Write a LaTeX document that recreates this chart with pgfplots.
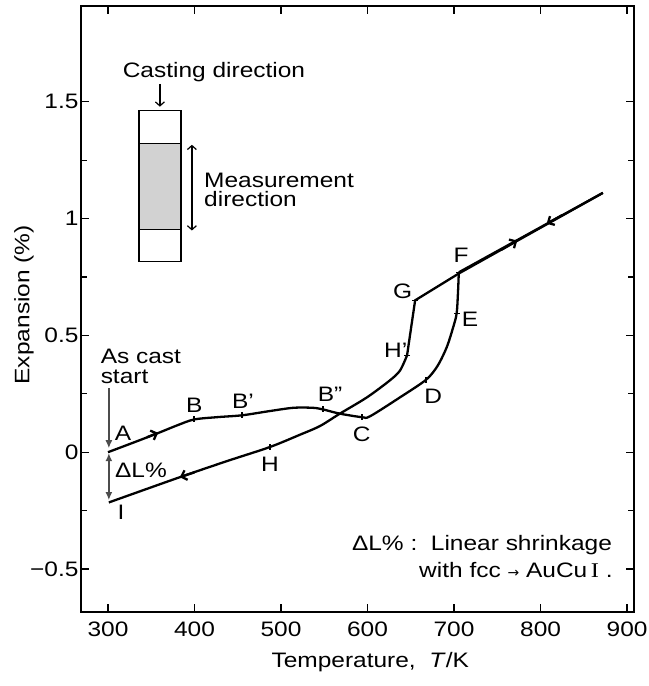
\documentclass[border=0pt]{standalone}
\usepackage{pgfplots}
\pgfplotsset{compat=1.18}
\usepackage{fontspec}
\setmainfont{Liberation Sans}[FakeStretch=1.17]
\newfontfamily\serifI{Liberation Serif}[FakeStretch=1.17]
\newfontfamily\djv{DejaVu Sans}
\usetikzlibrary{arrows.meta}
\begin{document}
\begin{tikzpicture}[font=\fontsize{21}{24}\selectfont]
\useasboundingbox (-81bp,-74bp) rectangle (568bp,612bp);
\begin{axis}[
 at={(0,0)}, anchor=south west,
 scale only axis, width=553bp, height=606bp,
 xmin=268.8, xmax=908, ymin=-0.684, ymax=1.91,
 axis line style={line width=2.2bp},
 tick align=inside,
 xtick={300,400,500,600,700,800,900},
 xticklabels={300,400,500,600,700,800,900},
 xticklabel style={yshift=-6bp},
 ytick={-0.5,0,0.5,1,1.5},
 yticklabels={−0.5,0,0.5,1,1.5},
 yticklabel style={xshift=1bp},
 minor ytick={-0.25,0.25,0.75,1.25},
 major tick length=8bp, minor tick length=6bp,
 every tick/.style={line width=1.2bp, black},
 xlabel={Temperature,\ \ \textit{T}/K},
 ylabel={Expansion (\%)},
 xlabel style={at={(axis description cs:0.523,0)}, anchor=center, yshift=-50bp},
 ylabel style={at={(axis description cs:-0.103,0.507)}, anchor=center},
 clip=false,
]
% heating curve
\addplot[line width=2.3bp, smooth] coordinates {
 (300,0.0)(330,0.042)(356.6,0.08)(380,0.115)(399.4,0.14)(426,0.15)(455,0.158)
 (485,0.175)(514,0.19)(537,0.19)(548.6,0.183)(568,0.165)(593.6,0.15)(603,0.154)
 (637.6,0.235)(667.6,0.31)(681,0.37)(691.6,0.45)(699,0.535)(703,0.594)(704.5,0.68)(705.5,0.77)};
\addplot[line width=2.3bp] coordinates {(705.5,0.77)(872,1.11)};
% cooling curve
\addplot[line width=2.3bp] coordinates {(872,1.11)(705.5,0.765)(655,0.65)(645.7,0.415)};
\addplot[line width=2.3bp, smooth] coordinates {
 (645.7,0.415)(637.6,0.35)(626,0.308)(599.4,0.235)
 (568,0.165)(545,0.112)(522,0.075)(487,0.022)(437.6,-0.038)(383,-0.107)(301,-0.215)};
% direction arrows
\addplot[line width=2.3bp, -{Straight Barb[length=5bp,width=10bp]}] coordinates {(345,0.064)(358,0.083)};
\addplot[line width=2.3bp, -{Straight Barb[length=5bp,width=10bp]}] coordinates {(755,0.867)(773,0.906)};
\addplot[line width=2.3bp, -{Straight Barb[length=5bp,width=10bp]}] coordinates {(825,1.015)(807,0.978)};
\addplot[line width=2.3bp, -{Straight Barb[length=5bp,width=10bp]}] coordinates {(400,-0.086)(383,-0.107)};
% point ticks
\addplot[only marks, mark=|, mark size=3bp, mark options={line width=1.5bp}] coordinates {
 (399.4,0.14)(455,0.158)(548.6,0.183)(593.6,0.15)(667.6,0.31)(487,0.022)};
\addplot[only marks, mark=-, mark size=3bp, mark options={line width=1.5bp}] coordinates {
 (645.7,0.415)(655,0.65)(703,0.594)(705.5,0.77)};
% annotations
\draw[gray!60!black, line width=1.5bp, -{Latex[length=8bp,width=7bp]}] (axis cs:301,0.273) -- (axis cs:301,0.017);
\draw[gray!60!black, line width=1.5bp, {Latex[length=8bp,width=7bp]}-{Latex[length=8bp,width=7bp]}] (axis cs:301,-0.004) -- (axis cs:301,-0.205);
\node[anchor=base west, inner sep=0pt] at (axis cs:291.4,0.38) {As cast};
\node[anchor=base west, inner sep=0pt] at (axis cs:291.4,0.295) {start};
\node[anchor=base west, inner sep=0pt] at (axis cs:308,-0.107) {ΔL\%};
\node[anchor=base, inner sep=0pt] at (axis cs:317.3,0.051) {A};
\node[anchor=base, inner sep=0pt] at (axis cs:399.8,0.172) {B};
\node[anchor=base, inner sep=0pt] at (axis cs:456,0.189) {B’};
\node[anchor=base, inner sep=0pt] at (axis cs:556.6,0.219) {B”};
\node[anchor=base, inner sep=0pt] at (axis cs:593.3,0.044) {C};
\node[anchor=base, inner sep=0pt] at (axis cs:676,0.208) {D};
\node[anchor=base, inner sep=0pt] at (axis cs:718.5,0.54) {E};
\node[anchor=base, inner sep=0pt] at (axis cs:708,0.81) {F};
\node[anchor=base, inner sep=0pt] at (axis cs:640.7,0.657) {G};
\node[anchor=base, inner sep=0pt] at (axis cs:632.6,0.407) {H’};
\node[anchor=base, inner sep=0pt] at (axis cs:487.3,-0.084) {H};
\node[anchor=base, inner sep=0pt] at (axis cs:315,-0.29) {I};
% specimen sketch
\draw[line width=1.3bp] (axis cs:335.8,0.816) rectangle (axis cs:384.4,1.462);
\draw[line width=1.3bp, fill=gray!35] (axis cs:335.8,0.953) rectangle (axis cs:384.4,1.32);
\draw[line width=1.2bp, -{Straight Barb[length=4bp,width=9bp]}] (axis cs:360,1.577) -- (axis cs:360,1.479);
\draw[line width=1.2bp, {Straight Barb[length=4bp,width=9bp]}-{Straight Barb[length=4bp,width=9bp]}] (axis cs:397,1.316) -- (axis cs:397,0.949);
\node[anchor=base, inner sep=0pt] at (axis cs:422.5,1.603) {Casting direction};
\node[anchor=base west, inner sep=0pt] at (axis cs:411,1.132) {Measurement};
\node[anchor=base west, inner sep=0pt] at (axis cs:411,1.051) {direction};
\node[anchor=base east, inner sep=0pt] at (axis cs:882.7,-0.419) {ΔL\%\ :\ \ Linear shrinkage};
\node[anchor=base east, inner sep=0pt] at (axis cs:883.5,-0.538) {with fcc {\djv\fontsize{14}{16}\selectfont →} AuCu\,{\serifI I}\ .};
\end{axis}
\end{tikzpicture}
\end{document}
